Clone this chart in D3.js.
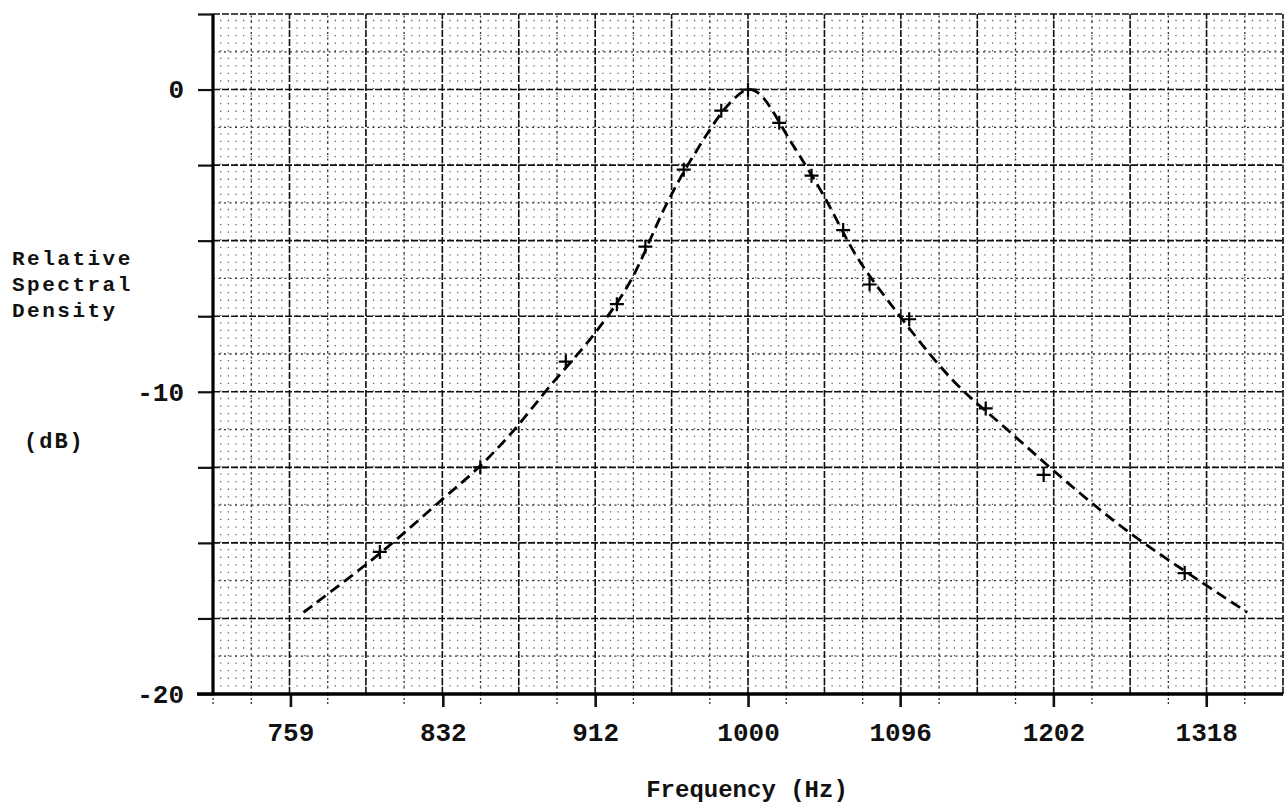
<!DOCTYPE html>
<html>
<head>
<meta charset="utf-8">
<script src="https://cdn.jsdelivr.net/npm/d3@7"></script>
<style>
  body { margin: 0; background: #fff; }
  svg text { font-family: "Liberation Mono", "DejaVu Sans Mono", monospace; fill: #111; }
</style>
</head>
<body>
<div id="chart"></div>
<script>
// Chart values
const freqTicks = [759, 832, 912, 1000, 1096, 1202, 1318];
const dbTicks = [0, -10, -20];

// measured points (+ markers)
const measuredFreq = [801, 851, 896, 924, 940, 962, 984, 1000, 1019, 1039, 1059, 1076, 1102, 1154, 1195, 1301];
const measuredDb = [-15.3, -12.5, -9.0, -7.1, -5.2, -2.65, -0.7, 0, -1.1, -2.85, -4.65, -6.45, -7.6, -10.55, -12.75, -16.0];

// dashed fitted curve
const curveFreq = [765, 801, 831, 851, 868, 887, 912, 931, 952, 967, 989, 1000, 1007, 1027, 1046, 1068, 1089, 1131, 1169, 1228, 1266, 1351];
const curveDb = [-17.3, -15.35, -13.6, -12.45, -11.3, -9.85, -8.05, -6.4, -3.8, -2.25, -0.45, 0, -0.15, -1.8, -3.45, -5.55, -7.05, -9.6, -11.25, -13.6, -14.9, -17.3];

const W = 1284, H = 811;
const svg = d3.select('#chart').append('svg')
    .attr('width', W)
    .attr('height', H);

// log frequency axis, linear dB axis
const x = d3.scaleLog().domain([724.4, 1380.4]).range([213, 1283]);
const y = d3.scaleLinear().domain([-20, 2.5]).range([694, 14]);
const xl = e => x(1000 * Math.pow(10, e));

const x0 = x.range()[0], x1 = x.range()[1];
const yTop = y.range()[1], yBot = y.range()[0];

const grid = svg.append('g').attr('class', 'grid');

// fine dots (graph paper)
const fineE = d3.range(-0.138, 0.1401, 0.002);
grid.selectAll('.fine-v')
    .data(fineE)
    .enter().append('line')
    .attr('x1', d => xl(d)).attr('x2', d => xl(d))
    .attr('y1', yBot).attr('y2', yTop)
    .attr('stroke', '#666')
    .attr('stroke-width', 1.3)
    .attr('stroke-dasharray', '1.3,6.26');

// half-cell dotted lines
const midE = d3.range(-0.13, 0.14, 0.02);
grid.selectAll('.mid-v')
    .data(midE)
    .enter().append('line')
    .attr('x1', d => xl(d)).attr('x2', d => xl(d))
    .attr('y1', yBot).attr('y2', yTop)
    .attr('stroke', '#333')
    .attr('stroke-width', 1.3)
    .attr('stroke-dasharray', '2,3.5');

const midDb = d3.range(-18.75, 2.5, 2.5);
grid.selectAll('.mid-h')
    .data(midDb)
    .enter().append('line')
    .attr('x1', x0).attr('x2', x1)
    .attr('y1', d => y(d)).attr('y2', d => y(d))
    .attr('stroke', '#333')
    .attr('stroke-width', 1.3)
    .attr('stroke-dasharray', '2,3.5');

// major cell lines
const majorE = d3.range(-0.12, 0.1401, 0.02);
grid.selectAll('.major-v')
    .data(majorE)
    .enter().append('line')
    .attr('x1', d => xl(d)).attr('x2', d => xl(d))
    .attr('y1', yBot).attr('y2', yTop)
    .attr('stroke', '#111')
    .attr('stroke-width', 1.6)
    .attr('stroke-dasharray', '7,2');

const majorDb = d3.range(-17.5, 2.6, 2.5);
grid.selectAll('.major-h')
    .data(majorDb)
    .enter().append('line')
    .attr('x1', x0).attr('x2', x1)
    .attr('y1', d => y(d)).attr('y2', d => y(d))
    .attr('stroke', '#111')
    .attr('stroke-width', 1.6)
    .attr('stroke-dasharray', '7,2');

// y axis: ticks at every major line, labels at 0, -10, -20
const yAxis = svg.append('g')
    .attr('transform', `translate(${x0},0)`)
    .call(d3.axisLeft(y)
        .tickValues(majorDb.concat([-20]))
        .tickSize(15)
        .tickPadding(14)
        .tickFormat(d => dbTicks.includes(d) ? d3.format('d')(d).replace('\u2212', '-') : ''));
yAxis.select('.domain').remove();
yAxis.selectAll('.tick line').attr('stroke', '#111').attr('stroke-width', 2.2);
yAxis.selectAll('.tick text')
    .style('font-size', '26px')
    .style('font-weight', 'bold')
    .attr('fill', '#111');

// x axis: labelled ticks below, short marks at the other cell lines
const xAxis = svg.append('g')
    .attr('transform', `translate(0,${yBot})`)
    .call(d3.axisBottom(x)
        .tickValues(freqTicks)
        .tickSize(13)
        .tickPadding(16)
        .tickFormat(d3.format('d')));
xAxis.select('.domain').remove();
xAxis.selectAll('.tick line').attr('stroke', '#111').attr('stroke-width', 2.6);
xAxis.selectAll('.tick text')
    .style('font-size', '26px')
    .style('font-weight', 'bold')
    .attr('fill', '#111');

svg.append('g').selectAll('line')
    .data(midE.concat([-0.14]))
    .enter().append('line')
    .attr('x1', d => xl(d)).attr('x2', d => xl(d))
    .attr('y1', yBot).attr('y2', yBot + 10)
    .attr('stroke', '#333')
    .attr('stroke-width', 1.3)
    .attr('stroke-dasharray', '2,2');

// frame: heavy left and bottom axis lines
svg.append('line')
    .attr('x1', x0).attr('x2', x0)
    .attr('y1', yTop).attr('y2', yBot + 1)
    .attr('stroke', '#000').attr('stroke-width', 3.2);
svg.append('line')
    .attr('x1', x0 - 16).attr('x2', x1)
    .attr('y1', yBot).attr('y2', yBot)
    .attr('stroke', '#000').attr('stroke-width', 3.6);

// dashed curve
const line = d3.line()
    .x(d => x(d[0]))
    .y(d => y(d[1]))
    .curve(d3.curveCatmullRom.alpha(0.5));

svg.append('path')
    .datum(curveFreq.map((f, i) => [f, curveDb[i]]))
    .attr('d', line)
    .attr('fill', 'none')
    .attr('stroke', '#000')
    .attr('stroke-width', 2.8)
    .attr('stroke-dasharray', '11,6');

// + markers
const s = 7;
svg.append('g').selectAll('path')
    .data(measuredFreq.map((f, i) => [f, measuredDb[i]]))
    .enter().append('path')
    .attr('d', d => {
        const px = x(d[0]), py = y(d[1]);
        return `M${px - s},${py}H${px + s}M${px},${py - s}V${py + s}`;
    })
    .attr('stroke', '#000')
    .attr('stroke-width', 2.2);

// axis titles
const yTitle = svg.append('text')
    .attr('x', 12)
    .style('font-size', '21px')
    .style('font-weight', 'bold')
    .style('letter-spacing', '2.5px');
['Relative', 'Spectral', 'Density'].forEach((t, i) => {
    yTitle.append('tspan').attr('x', 12).attr('y', 265 + i * 26).text(t);
});
svg.append('text')
    .attr('x', 24).attr('y', 448)
    .style('font-size', '22px')
    .style('font-weight', 'bold')
    .style('letter-spacing', '2px')
    .text('(dB)');

svg.append('text')
    .attr('x', 747).attr('y', 797)
    .attr('text-anchor', 'middle')
    .style('font-size', '24px')
    .style('font-weight', 'bold')
    .text('Frequency (Hz)');
</script>
</body>
</html>
